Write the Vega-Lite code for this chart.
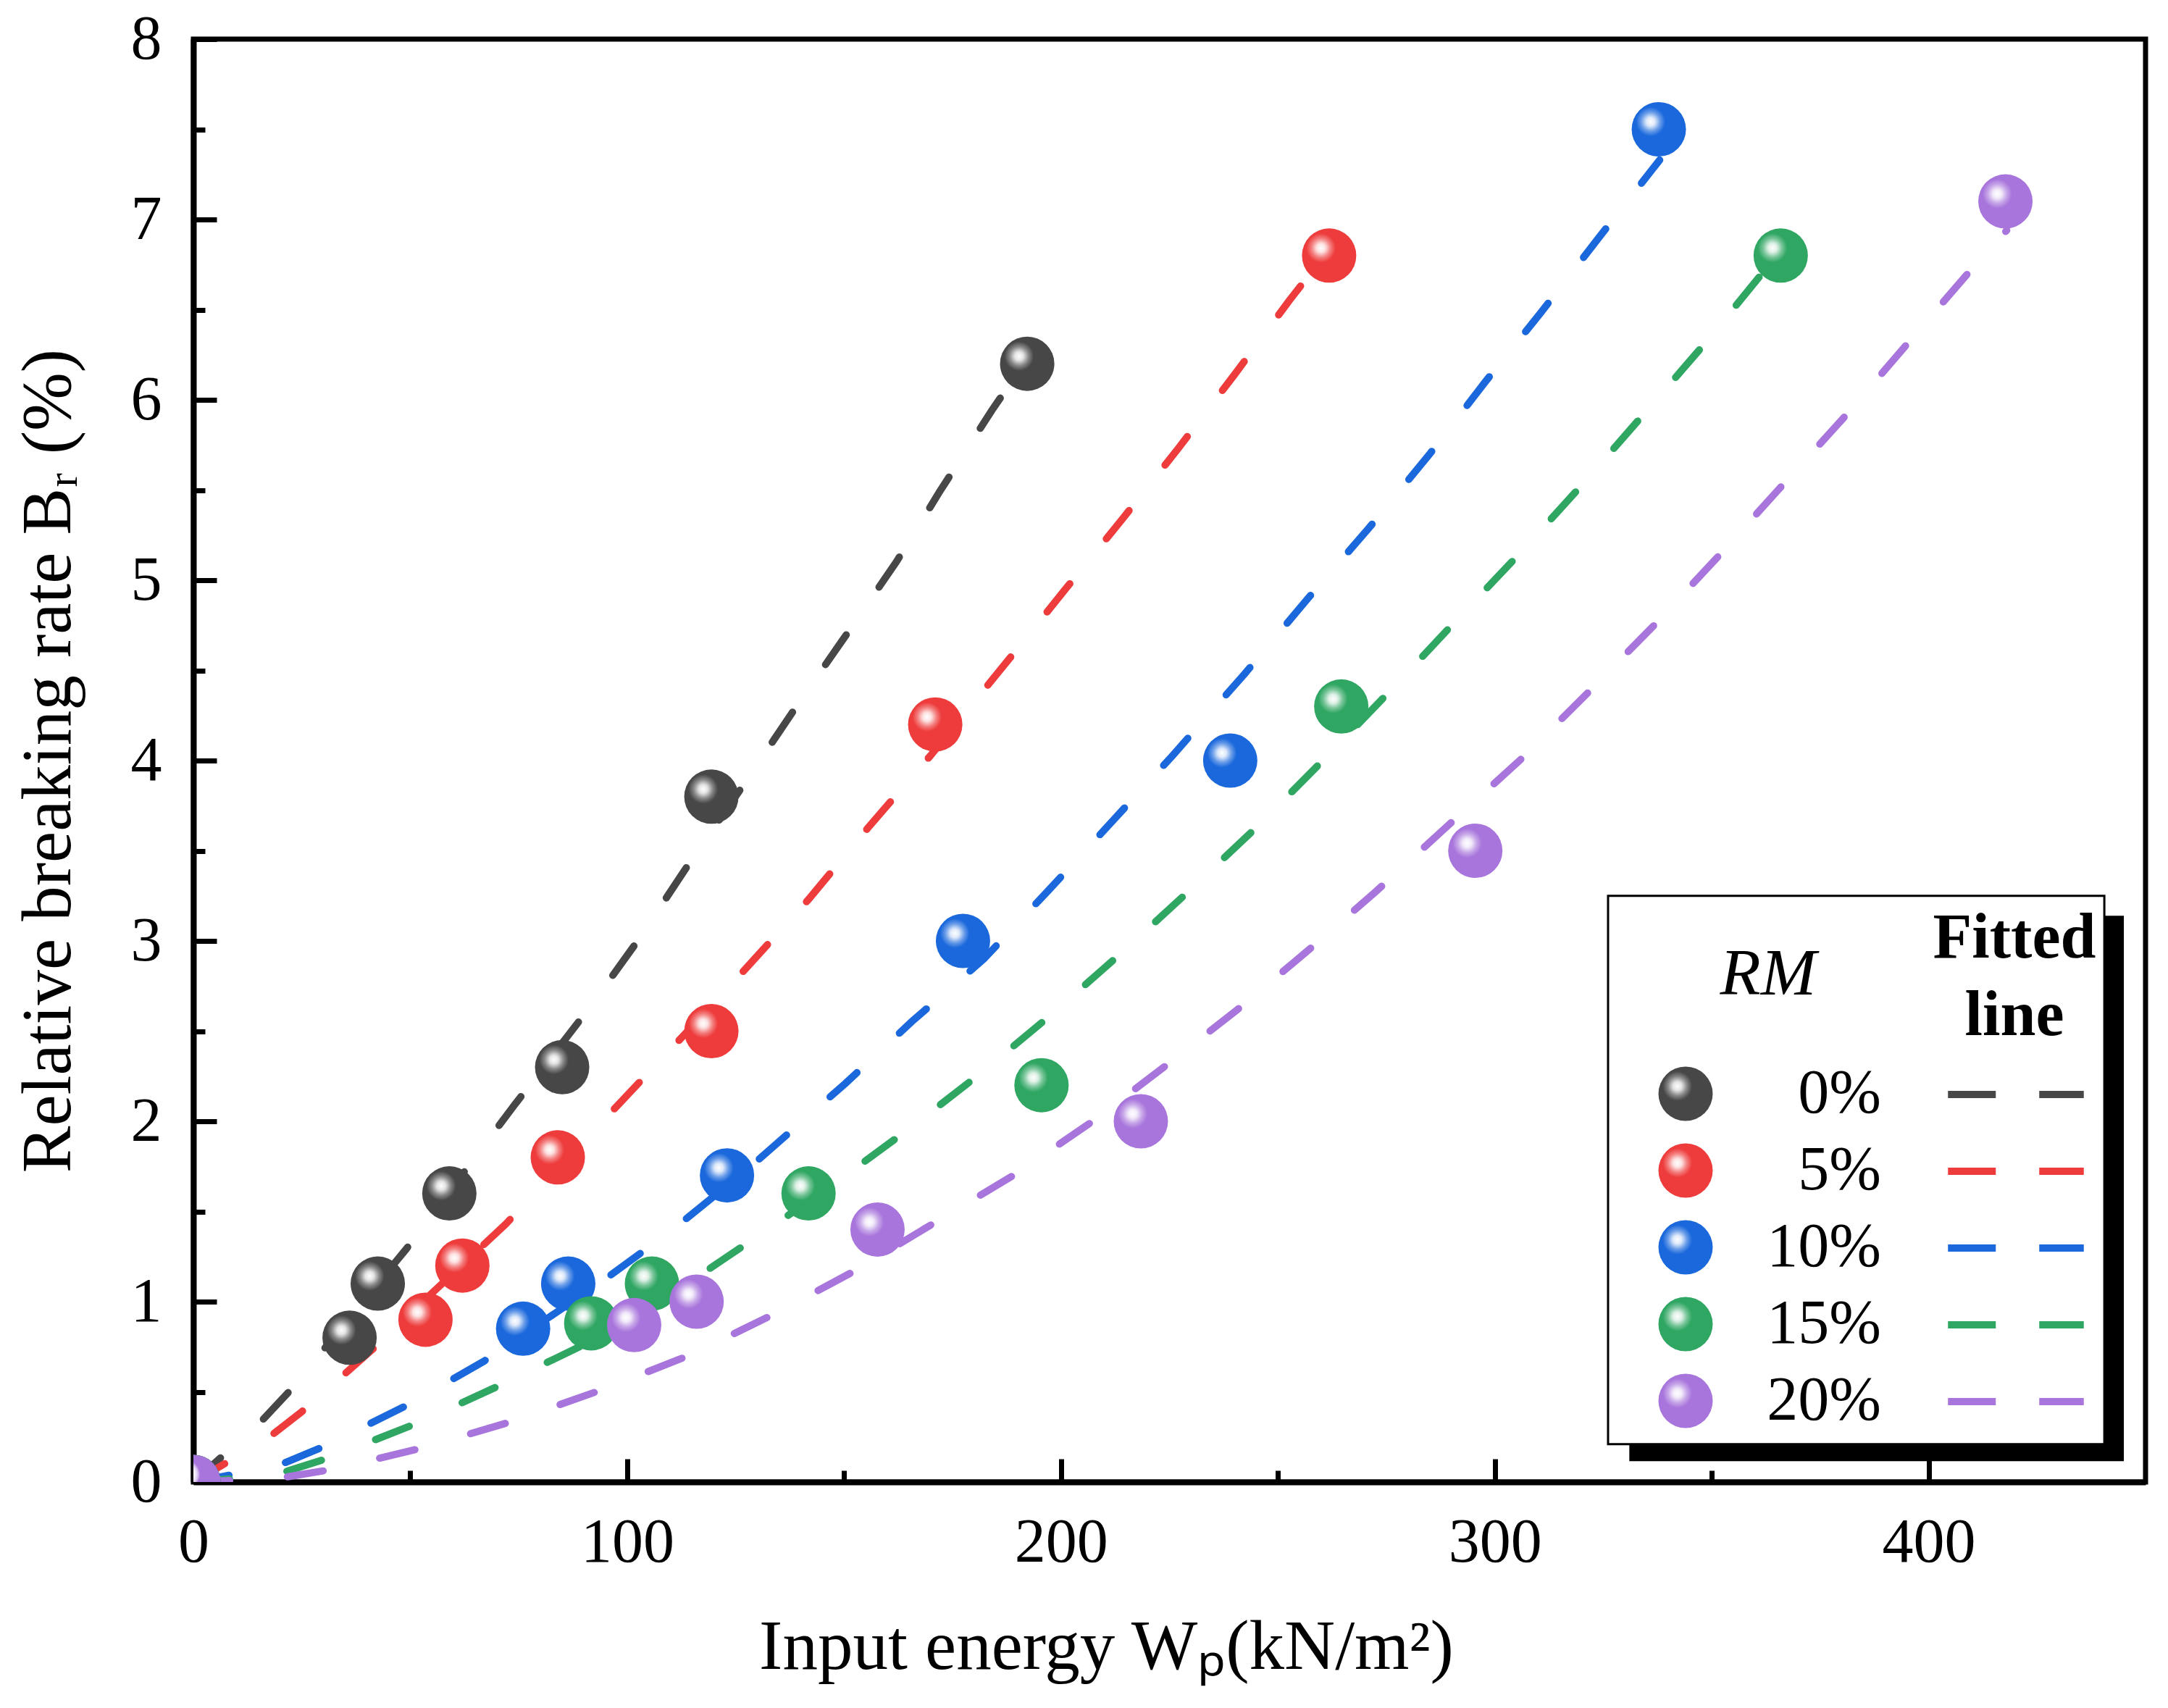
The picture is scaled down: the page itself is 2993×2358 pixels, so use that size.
{
  "$schema": "https://vega.github.io/schema/vega-lite/v6.json",
  "description": "Relative breaking rate against input energy for five RM contents, measured points and dashed fitted curves.",
  "width": 2695,
  "height": 1992,
  "autosize": {"type": "none"},
  "padding": {"left": 267, "top": 54, "right": 31, "bottom": 312},
  "background": "white",
  "config": {
    "font": "Liberation Serif",
    "view": {"stroke": "black", "strokeWidth": 7},
    "axis": {
      "grid": false,
      "domainColor": "black",
      "domainWidth": 8,
      "tickColor": "black",
      "tickWidth": 7,
      "labelFont": "Liberation Serif",
      "labelFontSize": 86,
      "labelColor": "black",
      "titleFont": "Liberation Serif",
      "titleFontSize": 97,
      "titleFontWeight": "normal",
      "titleColor": "black",
      "zindex": 1,
      "labelFlush": false,
      "labelOverlap": false
    },
    "legend": {
      "labelFont": "Liberation Serif",
      "titleFont": "Liberation Serif",
      "labelColor": "black",
      "titleColor": "black",
      "titleLimit": 600,
      "labelLimit": 600
    }
  },
  "datasets": {
    "pts": [
      {"RM": "0%", "W": 0, "Br": 0},
      {"RM": "0%", "W": 36, "Br": 0.8},
      {"RM": "0%", "W": 42.5, "Br": 1.1},
      {"RM": "0%", "W": 59, "Br": 1.6},
      {"RM": "0%", "W": 85, "Br": 2.3},
      {"RM": "0%", "W": 119.4, "Br": 3.8},
      {"RM": "0%", "W": 192.2, "Br": 6.2},
      {"RM": "5%", "W": 0, "Br": 0},
      {"RM": "5%", "W": 53.5, "Br": 0.9},
      {"RM": "5%", "W": 62, "Br": 1.2},
      {"RM": "5%", "W": 84, "Br": 1.8},
      {"RM": "5%", "W": 119.4, "Br": 2.5},
      {"RM": "5%", "W": 171, "Br": 4.2},
      {"RM": "5%", "W": 261.8, "Br": 6.8},
      {"RM": "10%", "W": 0, "Br": 0},
      {"RM": "10%", "W": 76, "Br": 0.85},
      {"RM": "10%", "W": 86.4, "Br": 1.1},
      {"RM": "10%", "W": 123, "Br": 1.7},
      {"RM": "10%", "W": 177.4, "Br": 3.0},
      {"RM": "10%", "W": 239, "Br": 4.0},
      {"RM": "10%", "W": 337.8, "Br": 7.5},
      {"RM": "15%", "W": 0, "Br": 0},
      {"RM": "15%", "W": 91.7, "Br": 0.88},
      {"RM": "15%", "W": 105.7, "Br": 1.1},
      {"RM": "15%", "W": 141.8, "Br": 1.6},
      {"RM": "15%", "W": 195.5, "Br": 2.2},
      {"RM": "15%", "W": 264.6, "Br": 4.3},
      {"RM": "15%", "W": 365.9, "Br": 6.8},
      {"RM": "20%", "W": 0, "Br": 0},
      {"RM": "20%", "W": 101.6, "Br": 0.87},
      {"RM": "20%", "W": 116, "Br": 1.0},
      {"RM": "20%", "W": 157.7, "Br": 1.4},
      {"RM": "20%", "W": 218.4, "Br": 2.0},
      {"RM": "20%", "W": 295.5, "Br": 3.5},
      {"RM": "20%", "W": 417.7, "Br": 7.1}
    ],
    "fit": [
      {"fit": "0% fitted", "W": 0, "Br": 0},
      {"fit": "0% fitted", "W": 15, "Br": 0.32},
      {"fit": "0% fitted", "W": 22, "Br": 0.5},
      {"fit": "0% fitted", "W": 49, "Br": 1.29},
      {"fit": "0% fitted", "W": 74, "Br": 2.09},
      {"fit": "0% fitted", "W": 91, "Br": 2.62},
      {"fit": "0% fitted", "W": 103, "Br": 3.02},
      {"fit": "0% fitted", "W": 114, "Br": 3.42},
      {"fit": "0% fitted", "W": 125.8, "Br": 3.83},
      {"fit": "0% fitted", "W": 139, "Br": 4.3},
      {"fit": "0% fitted", "W": 150, "Br": 4.68},
      {"fit": "0% fitted", "W": 162, "Br": 5.1},
      {"fit": "0% fitted", "W": 172, "Br": 5.49},
      {"fit": "0% fitted", "W": 184, "Br": 5.94},
      {"fit": "0% fitted", "W": 192, "Br": 6.22},
      {"fit": "5% fitted", "W": 0, "Br": 0},
      {"fit": "5% fitted", "W": 17, "Br": 0.24},
      {"fit": "5% fitted", "W": 25, "Br": 0.39},
      {"fit": "5% fitted", "W": 41.5, "Br": 0.74},
      {"fit": "5% fitted", "W": 56, "Br": 1.07},
      {"fit": "5% fitted", "W": 72, "Br": 1.43},
      {"fit": "5% fitted", "W": 101, "Br": 2.17},
      {"fit": "5% fitted", "W": 121.6, "Br": 2.695},
      {"fit": "5% fitted", "W": 141.8, "Br": 3.23},
      {"fit": "5% fitted", "W": 155.6, "Br": 3.63},
      {"fit": "5% fitted", "W": 170, "Br": 4.03},
      {"fit": "5% fitted", "W": 188.6, "Br": 4.58},
      {"fit": "5% fitted", "W": 201, "Br": 4.95},
      {"fit": "5% fitted", "W": 214.5, "Br": 5.35},
      {"fit": "5% fitted", "W": 227, "Br": 5.73},
      {"fit": "5% fitted", "W": 240, "Br": 6.14},
      {"fit": "5% fitted", "W": 252.6, "Br": 6.55},
      {"fit": "5% fitted", "W": 262, "Br": 6.84},
      {"fit": "10% fitted", "W": 0, "Br": 0},
      {"fit": "10% fitted", "W": 11, "Br": 0.05},
      {"fit": "10% fitted", "W": 20.4, "Br": 0.1},
      {"fit": "10% fitted", "W": 30.4, "Br": 0.2},
      {"fit": "10% fitted", "W": 49.6, "Br": 0.43},
      {"fit": "10% fitted", "W": 67, "Br": 0.67},
      {"fit": "10% fitted", "W": 93.5, "Br": 1.1},
      {"fit": "10% fitted", "W": 110, "Br": 1.39},
      {"fit": "10% fitted", "W": 128.5, "Br": 1.75},
      {"fit": "10% fitted", "W": 150.3, "Br": 2.21},
      {"fit": "10% fitted", "W": 165.7, "Br": 2.555},
      {"fit": "10% fitted", "W": 182.2, "Br": 2.9},
      {"fit": "10% fitted", "W": 197.1, "Br": 3.28},
      {"fit": "10% fitted", "W": 211.5, "Br": 3.655},
      {"fit": "10% fitted", "W": 225.8, "Br": 4.03},
      {"fit": "10% fitted", "W": 242.3, "Br": 4.48},
      {"fit": "10% fitted", "W": 256.6, "Br": 4.89},
      {"fit": "10% fitted", "W": 271, "Br": 5.29},
      {"fit": "10% fitted", "W": 285, "Br": 5.7},
      {"fit": "10% fitted", "W": 297.8, "Br": 6.1},
      {"fit": "10% fitted", "W": 310.5, "Br": 6.48},
      {"fit": "10% fitted", "W": 324, "Br": 6.9},
      {"fit": "10% fitted", "W": 338, "Br": 7.33},
      {"fit": "15% fitted", "W": 0, "Br": 0},
      {"fit": "15% fitted", "W": 10, "Br": 0.02},
      {"fit": "15% fitted", "W": 21.6, "Br": 0.06},
      {"fit": "15% fitted", "W": 32, "Br": 0.14},
      {"fit": "15% fitted", "W": 52, "Br": 0.33},
      {"fit": "15% fitted", "W": 71, "Br": 0.54},
      {"fit": "15% fitted", "W": 89, "Br": 0.75},
      {"fit": "15% fitted", "W": 115.7, "Br": 1.13},
      {"fit": "15% fitted", "W": 133, "Br": 1.41},
      {"fit": "15% fitted", "W": 149.2, "Br": 1.68},
      {"fit": "15% fitted", "W": 166.2, "Br": 1.98},
      {"fit": "15% fitted", "W": 181.7, "Br": 2.27},
      {"fit": "15% fitted", "W": 198.2, "Br": 2.6},
      {"fit": "15% fitted", "W": 214.7, "Br": 2.95},
      {"fit": "15% fitted", "W": 230.1, "Br": 3.29},
      {"fit": "15% fitted", "W": 245.5, "Br": 3.64},
      {"fit": "15% fitted", "W": 262, "Br": 4.04},
      {"fit": "15% fitted", "W": 278, "Br": 4.44},
      {"fit": "15% fitted", "W": 292, "Br": 4.8},
      {"fit": "15% fitted", "W": 306.6, "Br": 5.17},
      {"fit": "15% fitted", "W": 320.9, "Br": 5.55},
      {"fit": "15% fitted", "W": 334.3, "Br": 5.92},
      {"fit": "15% fitted", "W": 348.7, "Br": 6.32},
      {"fit": "15% fitted", "W": 366, "Br": 6.83},
      {"fit": "20% fitted", "W": 0, "Br": 0},
      {"fit": "20% fitted", "W": 11, "Br": 0.01},
      {"fit": "20% fitted", "W": 22, "Br": 0.03},
      {"fit": "20% fitted", "W": 32, "Br": 0.07},
      {"fit": "20% fitted", "W": 53, "Br": 0.19},
      {"fit": "20% fitted", "W": 74, "Br": 0.34},
      {"fit": "20% fitted", "W": 94, "Br": 0.51},
      {"fit": "20% fitted", "W": 114.1, "Br": 0.7},
      {"fit": "20% fitted", "W": 133.8, "Br": 0.93},
      {"fit": "20% fitted", "W": 152.4, "Br": 1.17},
      {"fit": "20% fitted", "W": 171, "Br": 1.44},
      {"fit": "20% fitted", "W": 189.7, "Br": 1.71},
      {"fit": "20% fitted", "W": 206.7, "Br": 1.99},
      {"fit": "20% fitted", "W": 223.7, "Br": 2.3},
      {"fit": "20% fitted", "W": 240.7, "Br": 2.62},
      {"fit": "20% fitted", "W": 256.1, "Br": 2.93},
      {"fit": "20% fitted", "W": 272.4, "Br": 3.27},
      {"fit": "20% fitted", "W": 288.3, "Br": 3.62},
      {"fit": "20% fitted", "W": 306.6, "Br": 4.02},
      {"fit": "20% fitted", "W": 321.6, "Br": 4.38},
      {"fit": "20% fitted", "W": 336.7, "Br": 4.75},
      {"fit": "20% fitted", "W": 351.8, "Br": 5.14},
      {"fit": "20% fitted", "W": 365.3, "Br": 5.5},
      {"fit": "20% fitted", "W": 380.4, "Br": 5.9},
      {"fit": "20% fitted", "W": 394.7, "Br": 6.3},
      {"fit": "20% fitted", "W": 409, "Br": 6.7},
      {"fit": "20% fitted", "W": 418, "Br": 6.94}
    ]
  },
  "resolve": {"axis": {"x": "independent", "y": "independent"}},
  "layer": [
    {
      "data": {"name": "fit"},
      "mark": {"type": "line", "strokeWidth": 10, "strokeDash": [50, 80], "strokeCap": "round", "clip": true},
      "encoding": {
        "x": {
          "field": "W",
          "type": "quantitative",
          "scale": {"domain": [0, 450], "nice": false},
          "axis": {
            "orient": "bottom",
            "values": [0, 100, 200, 300, 400],
            "tickSize": -32,
            "labelPadding": 73,
            "title": "Input energy Wₚ(kN/m²)",
            "titlePadding": 54,
            "titleX": 1260
          }
        },
        "y": {
          "field": "Br",
          "type": "quantitative",
          "scale": {"domain": [0, 8], "nice": false},
          "axis": {
            "orient": "left",
            "values": [0, 1, 2, 3, 4, 5, 6, 7, 8],
            "tickSize": -32,
            "labelPadding": 76,
            "title": "Relative breaking rate Bᵣ (%)",
            "titlePadding": 64
          }
        },
        "stroke": {
          "field": "fit",
          "type": "nominal",
          "scale": {
            "domain": ["0% fitted", "5% fitted", "10% fitted", "15% fitted", "20% fitted"],
            "range": ["#474747", "#EE3B3B", "#1A68DC", "#2FA662", "#A875DC"]
          },
          "legend": {
            "title": ["Fitted", "line"],
            "orient": "none",
            "legendX": 2398,
            "legendY": 1198,
            "padding": 0,
            "titleFontSize": 88,
            "titleFontWeight": "bold",
            "titleLineHeight": 107,
            "titleAnchor": "middle",
            "titlePadding": 21,
            "symbolType": "M-2.5,0H2.5",
            "symbolSize": 5625,
            "symbolOffset": 75,
            "symbolStrokeWidth": 10,
            "symbolDash": [66, 60],
            "labelExpr": "''",
            "labelFontSize": 86,
            "labelOffset": 0,
            "rowPadding": 20
          }
        }
      }
    },
    {
      "data": {"name": "pts"},
      "mark": {"type": "circle", "size": 5625, "opacity": 1, "clip": true},
      "encoding": {
        "x": {
          "field": "W",
          "type": "quantitative",
          "axis": {
            "orient": "bottom",
            "values": [50, 150, 250, 350],
            "tickSize": -16,
            "labels": false,
            "domain": false,
            "title": null
          }
        },
        "y": {
          "field": "Br",
          "type": "quantitative",
          "axis": {
            "orient": "left",
            "values": [0.5, 1.5, 2.5, 3.5, 4.5, 5.5, 6.5, 7.5],
            "tickSize": -16,
            "labels": false,
            "domain": false,
            "title": null
          }
        },
        "fill": {
          "field": "RM",
          "type": "nominal",
          "scale": {
            "domain": ["0%", "5%", "10%", "15%", "20%"],
            "range": ["#474747", "#EE3B3B", "#1A68DC", "#2FA662", "#A875DC"]
          },
          "legend": {
            "title": "RM",
            "orient": "none",
            "legendX": 2017,
            "legendY": 1246,
            "padding": 0,
            "titleFontSize": 92,
            "titleFontStyle": "italic",
            "titleFontWeight": "normal",
            "titleAnchor": "middle",
            "titlePadding": 75,
            "symbolType": "circle",
            "symbolSize": 5625,
            "symbolStrokeWidth": 0,
            "labelFontSize": 86,
            "labelAlign": "right",
            "labelOffset": 227,
            "rowPadding": 20
          }
        }
      }
    },
    {
      "data": {"name": "pts"},
      "transform": [{"calculate": "datum.RM + ' shine'", "as": "shine"}],
      "mark": {
        "type": "point",
        "filled": true,
        "size": 5625,
        "opacity": 1,
        "clip": true,
        "fill": {
          "gradient": "radial",
          "x1": 0.35, "y1": 0.36, "r1": 0,
          "x2": 0.35, "y2": 0.36, "r2": 0.27,
          "stops": [
            {"offset": 0, "color": "rgba(255,255,255,1)"},
            {"offset": 0.3, "color": "rgba(255,255,255,0.85)"},
            {"offset": 0.65, "color": "rgba(255,255,255,0.35)"},
            {"offset": 1, "color": "rgba(255,255,255,0)"}
          ]
        }
      },
      "encoding": {
        "x": {"field": "W", "type": "quantitative", "axis": null},
        "y": {"field": "Br", "type": "quantitative", "axis": null},
        "shape": {
          "field": "shine",
          "type": "nominal",
          "scale": {
            "domain": ["0% shine", "5% shine", "10% shine", "15% shine", "20% shine"],
            "range": ["circle", "circle", "circle", "circle", "circle"]
          },
          "legend": {
            "title": "RM",
            "orient": "none",
            "legendX": 2017,
            "legendY": 1246,
            "zindex": 2,
            "padding": 0,
            "titleFontSize": 92,
            "titleFontStyle": "italic",
            "titleFontWeight": "normal",
            "titleAnchor": "middle",
            "titlePadding": 75,
            "titleOpacity": 0,
            "symbolType": "circle",
            "symbolSize": 5625,
            "symbolStrokeWidth": 0,
            "labelFontSize": 86,
            "labelExpr": "''",
            "labelOffset": 227,
            "rowPadding": 20,
            "encode": {
              "symbols": {
                "update": {
                  "fill": {
                    "value": {
                      "gradient": "radial",
                      "x1": 0.35, "y1": 0.36, "r1": 0,
                      "x2": 0.35, "y2": 0.36, "r2": 0.27,
                      "stops": [
                        {"offset": 0, "color": "rgba(255,255,255,1)"},
                        {"offset": 0.3, "color": "rgba(255,255,255,0.85)"},
                        {"offset": 0.65, "color": "rgba(255,255,255,0.35)"},
                        {"offset": 1, "color": "rgba(255,255,255,0)"}
                      ]
                    }
                  },
                  "opacity": {"value": 1}
                }
              }
            }
          }
        }
      }
    },
    {
      "data": {"values": [{}]},
      "mark": {"type": "rect", "fill": "black"},
      "encoding": {
        "x": {"datum": 331, "type": "quantitative", "axis": null},
        "x2": {"datum": 445},
        "y": {"datum": 3.14, "type": "quantitative", "axis": null},
        "y2": {"datum": 0.115}
      }
    },
    {
      "data": {"values": [{}]},
      "mark": {"type": "rect", "fill": "white", "stroke": "black", "strokeWidth": 3},
      "encoding": {
        "x": {"datum": 326.1, "type": "quantitative", "axis": null},
        "x2": {"datum": 440.5},
        "y": {"datum": 3.25, "type": "quantitative", "axis": null},
        "y2": {"datum": 0.21}
      }
    }
  ]
}
